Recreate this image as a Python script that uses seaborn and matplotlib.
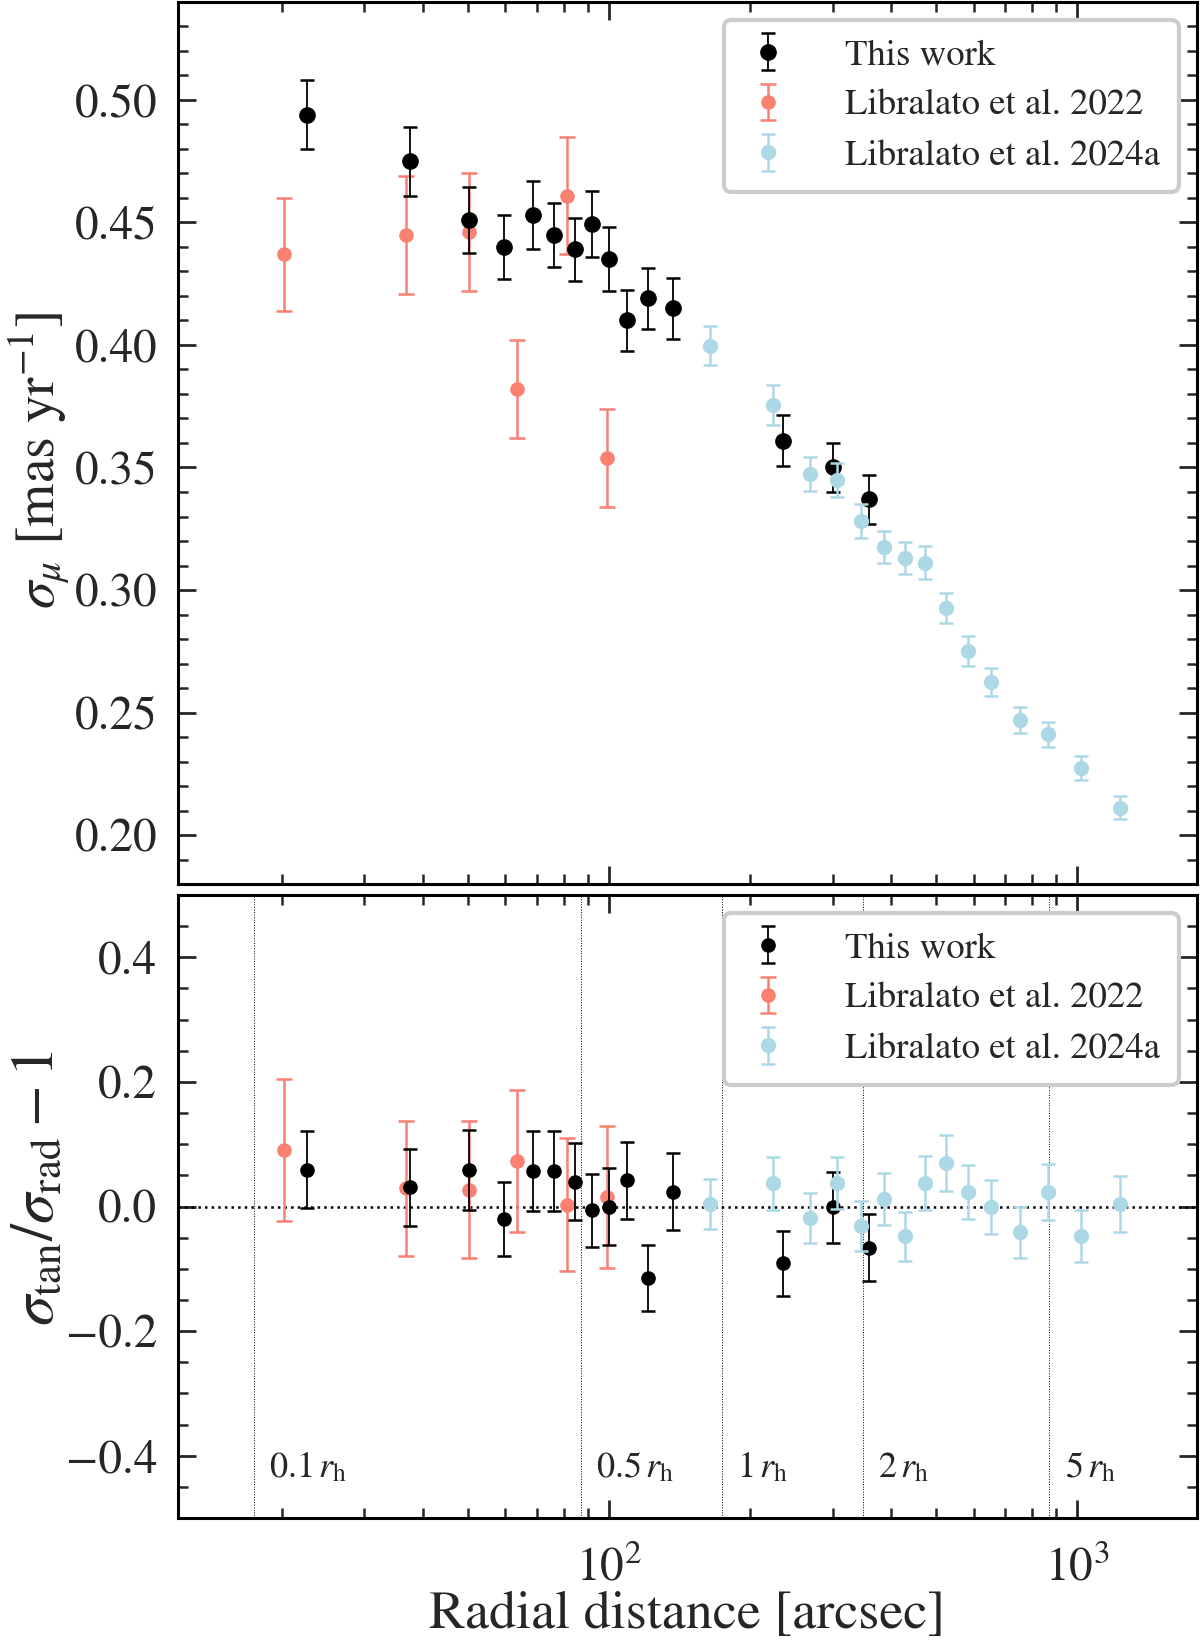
import matplotlib
matplotlib.use("Agg")
import matplotlib.pyplot as plt
import numpy as np
import seaborn as sns
from matplotlib.ticker import LogLocator, MultipleLocator, NullFormatter

# radial distance [arcsec]
r_this = [22.6, 37.6, 50.1, 59.7, 68.7, 76.4, 84.7, 91.8, 100.0, 109.1, 120.8, 136.6, 235.0, 300.6, 358.3]
r_l22 = [20.2, 36.8, 50.3, 63.6, 81.1, 98.9]
r_l24 = [163.8, 223.3, 268.2, 307.3, 344.8, 385.4, 427.6, 473.2, 524.2, 584.8, 653.4, 752.8, 866.9, 1020.0, 1232.0]

# sigma_mu [mas/yr]
sig_this = [0.494, 0.475, 0.451, 0.440, 0.453, 0.445, 0.439, 0.4495, 0.435, 0.410, 0.419, 0.415, 0.361, 0.350, 0.337]
sig_this_err = [0.014, 0.014, 0.0135, 0.013, 0.014, 0.013, 0.013, 0.0135, 0.013, 0.0125, 0.0125, 0.0125, 0.0105, 0.010, 0.010]
sig_l22 = [0.437, 0.445, 0.446, 0.382, 0.461, 0.354]
sig_l22_err = [0.023, 0.024, 0.024, 0.020, 0.024, 0.020]
sig_l24 = [0.3997, 0.3755, 0.3474, 0.3448, 0.3281, 0.3175, 0.313, 0.3112, 0.2926, 0.2751, 0.2625, 0.2469, 0.2411, 0.2273, 0.2112]
sig_l24_err = [0.008, 0.008, 0.007, 0.007, 0.007, 0.0066, 0.0066, 0.0066, 0.006, 0.006, 0.0056, 0.0052, 0.0052, 0.005, 0.0048]

# anisotropy sigma_tan/sigma_rad - 1
ani_this = [0.059, 0.031, 0.059, -0.020, 0.057, 0.057, 0.040, -0.006, 0.0, 0.042, -0.114, 0.024, -0.091, -0.001, -0.066]
ani_this_err = [0.062, 0.062, 0.064, 0.060, 0.064, 0.064, 0.062, 0.059, 0.062, 0.062, 0.053, 0.062, 0.052, 0.057, 0.054]
ani_l22 = [0.090, 0.029, 0.027, 0.073, 0.003, 0.016]
ani_l22_err = [0.114, 0.108, 0.110, 0.114, 0.107, 0.114]
ani_l24 = [0.004, 0.037, -0.018, 0.038, -0.031, 0.012, -0.048, 0.038, 0.070, 0.023, -0.001, -0.041, 0.024, -0.047, 0.004]
ani_l24_err = [0.040, 0.042, 0.040, 0.042, 0.040, 0.042, 0.040, 0.043, 0.045, 0.043, 0.043, 0.041, 0.045, 0.042, 0.045]

# half-light radius [arcsec] and the multiples marked in the lower panel
r_h = 174.0
rh_mult = [0.1, 0.5, 1, 2, 5]
rh_labels = ["0.1", "0.5", "1", "2", "5"]

sns.set_theme(style="ticks")
plt.rcParams["font.family"] = ["STIXGeneral", "DejaVu Serif"]
plt.rcParams["mathtext.fontset"] = "stix"
plt.rcParams["axes.edgecolor"] = "black"

fig = plt.figure(figsize=(12, 16.45), dpi=100)
ax1 = fig.add_axes([0.1483, 0.4626, 0.8492, 0.5362])
ax2 = fig.add_axes([0.1483, 0.0772, 0.8492, 0.3787], sharex=ax1)

c_this, c_l22, c_l24 = "black", "salmon", "lightblue"


def draw(ax, ys, ms_this):
    (y_this, e_this), (y_l22, e_l22), (y_l24, e_l24) = ys
    h22 = ax.errorbar(r_l22, y_l22, yerr=e_l22, fmt="o", color=c_l22, ms=9.5,
                      elinewidth=1.8, capsize=6, capthick=1.8, zorder=2)
    h1 = ax.errorbar(r_this, y_this, yerr=e_this, fmt="o", color=c_this, ms=ms_this,
                     elinewidth=1.3, capsize=5, capthick=1.8, zorder=3)
    h24 = ax.errorbar(r_l24, y_l24, yerr=e_l24, fmt="o", color=c_l24, ms=10,
                      elinewidth=1.8, capsize=5, capthick=1.8, zorder=4)
    leg = ax.legend([h1, h22, h24], ["This work", "Libralato et al. 2022", "Libralato et al. 2024a"],
                    loc="upper right", fontsize=26.5, frameon=True, fancybox=True,
                    borderaxespad=0.5, handletextpad=1.4, handlelength=1.4, labelspacing=0.45,
                    borderpad=0.5)
    leg.get_frame().set_edgecolor("#cccccc")
    leg.get_frame().set_linewidth(3)
    leg.get_frame().set_alpha(1)


draw(ax1, [(sig_this, sig_this_err), (sig_l22, sig_l22_err), (sig_l24, sig_l24_err)], 11)
draw(ax2, [(ani_this, ani_this_err), (ani_l22, ani_l22_err), (ani_l24, ani_l24_err)], 9.5)

ax1.set_xscale("log")
ax1.set_xlim(12, 1800)
ax1.set_ylim(0.18, 0.54)
ax2.set_ylim(-0.5, 0.5)

ax1.yaxis.set_major_locator(MultipleLocator(0.05))
ax1.yaxis.set_minor_locator(MultipleLocator(0.01))
ax2.yaxis.set_major_locator(MultipleLocator(0.2))
ax2.yaxis.set_minor_locator(MultipleLocator(0.05))
ax1.set_yticks([0.20, 0.25, 0.30, 0.35, 0.40, 0.45, 0.50])
ax1.set_yticklabels(["0.20", "0.25", "0.30", "0.35", "0.40", "0.45", "0.50"])
ax2.set_yticks([-0.4, -0.2, 0.0, 0.2, 0.4])
ax2.set_yticklabels(["\u22120.4", "\u22120.2", "0.0", "0.2", "0.4"])

for ax in (ax1, ax2):
    ax.xaxis.set_major_locator(LogLocator(base=10))
    ax.xaxis.set_minor_locator(LogLocator(base=10, subs=np.arange(2, 10)))
    ax.xaxis.set_minor_formatter(NullFormatter())
    ax.tick_params(which="both", direction="in", top=True, right=True, labelsize=34)
    ax.tick_params(which="major", length=13, width=2)
    ax.tick_params(which="minor", length=7, width=1.8)
    ax.tick_params(axis="y", which="major", pad=15)
    for s in ax.spines.values():
        s.set_linewidth(2.2)
ax1.tick_params(labelbottom=False)
ax2.tick_params(axis="x", which="major", pad=20)

ax2.axhline(0, color="black", ls=":", lw=1.8, zorder=1)
for m, lab in zip(rh_mult, rh_labels):
    ax2.axvline(m * r_h, color="black", ls=":", lw=0.7, zorder=0)
    ax2.text(m * r_h * 1.08, -0.42, lab + r"$\,r_\mathrm{h}$", fontsize=26,
             ha="left", va="center")

ax1.set_ylabel(r"$\sigma_\mu$ [mas yr$^{-1}$]", fontsize=40)
ax2.set_ylabel(r"$\sigma_\mathrm{tan}/\sigma_\mathrm{rad}-1$", fontsize=44)
ax2.set_xlabel("Radial distance [arcsec]", fontsize=39, labelpad=0)
ax1.yaxis.set_label_coords(-0.104, 0.48)
ax2.yaxis.set_label_coords(-0.11, 0.53)

fig.savefig("out.png", dpi=100)
